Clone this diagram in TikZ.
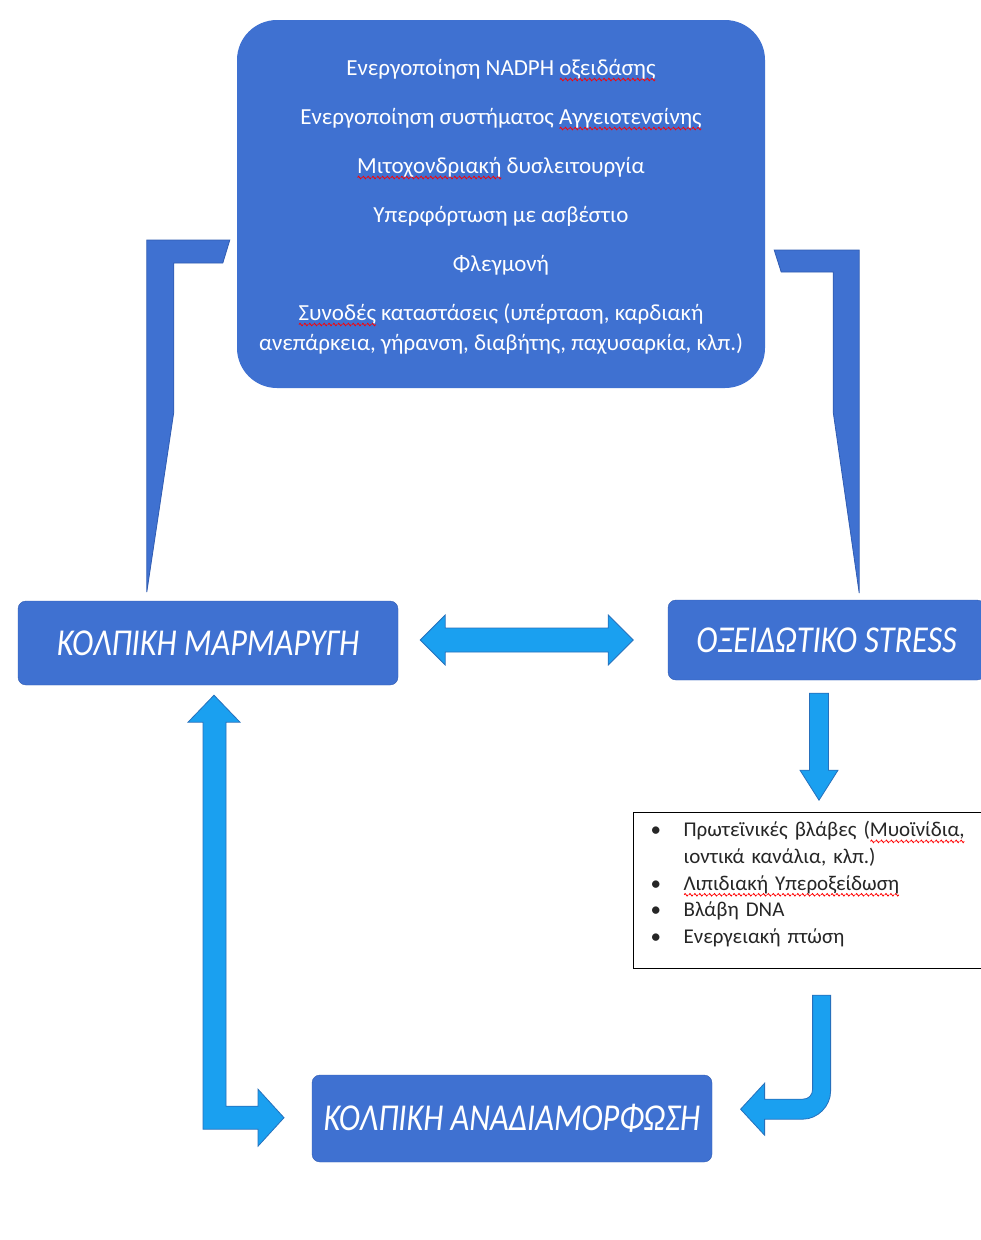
\documentclass[tikz,border=0pt]{standalone}
\usepackage{fontspec}
\setmainfont{Carlito}
\newfontfamily\titlefont[FakeStretch=0.85]{Carlito}
\usetikzlibrary{calc,positioning}

\definecolor{boxblue}{RGB}{63,113,209}
\definecolor{boxedge}{RGB}{48,92,178}
\definecolor{flowblue}{RGB}{26,160,240}
\definecolor{flowedge}{RGB}{38,112,188}

% red wavy underline, as the spell checker shows it
\newcommand\wavebit{\tikz[baseline=0pt]\draw[draw=red, fill=none, sharp corners, line width=0.8pt, x=1pt, y=1pt]
  (0,0) sin (1,1.3) cos (2,0) sin (3,-1.3) cos (4,0);}
\newcommand\spellerr[1]{\setbox0\hbox{#1}%
  \rlap{\raisebox{-4.5pt}[0pt][0pt]{\hbox to \wd0{\xleaders\hbox{\wavebit}\hfill}}}#1}

\begin{document}
\begin{tikzpicture}[x=1pt, y=-1pt,
  cause/.style={rectangle, rounded corners=40pt, fill=boxblue, text=white,
                minimum width=528pt, minimum height=368pt, align=center,
                font=\fontsize{23}{30}\selectfont},
  state/.style={rectangle, rounded corners=8pt, fill=boxblue, draw=boxedge, text=white,
                font=\titlefont\itshape\fontsize{38}{40}\selectfont},
  listbox/.style={rectangle, draw=black, line width=1.2pt, fill=white, text=black!85,
                  text width=330pt, inner xsep=17pt, minimum height=156pt, align=left,
                  font=\fontsize{21}{26.7}\selectfont},
  wedge/.style={fill=boxblue, draw=boxedge, line width=0.8pt},
  fat/.style={fill=flowblue, draw=flowedge, line width=0.8pt}
]
\clip (0,0) rectangle (981,1240);
\fill[white] (0,0) rectangle (981,1240);

\node[cause] (causes) at (501,204) {%
  \rule{0pt}{21pt}Ενεργοποίηση NADPH \spellerr{οξειδάσης}\\[19pt]
  Ενεργοποίηση συστήματος \spellerr{Αγγειοτενσίνης}\\[19pt]
  \spellerr{Μιτοχονδριακή} δυσλειτουργία\\[19pt]
  Υπερφόρτωση με ασβέστιο\\[19pt]
  Φλεγμονή\\[19pt]
  \spellerr{Συνοδές} καταστάσεις (υπέρταση, καρδιακή\\
  ανεπάρκεια, γήρανση, διαβήτης, παχυσαρκία, κλπ.)};

\node[state, minimum width=380pt, minimum height=84pt] (afib) at (208,643) {ΚΟΛΠΙΚΗ ΜΑΡΜΑΡΥΓΗ};
\node[state, minimum width=317pt, minimum height=80pt] (oxstress) at (826.5,640) {ΟΞΕΙΔΩΤΙΚΟ STRESS};
\node[listbox, anchor=north west] (damage) at (633,812) {%
  \makebox[33pt][l]{\textbullet}Πρωτεϊνικές βλάβες (\spellerr{Μυοϊνίδια,}\\
  \hspace*{33pt}ιοντικά κανάλια, κλπ.)\\
  \makebox[33pt][l]{\textbullet}\spellerr{Λιπιδιακή Υπεροξείδωση}\\
  \makebox[33pt][l]{\textbullet}Βλάβη DNA\\
  \makebox[33pt][l]{\textbullet}Ενεργειακή πτώση\rule[-16pt]{0pt}{16pt}};
\node[state, minimum width=400pt, minimum height=87pt] (remodel) at (512,1118.5) {ΚΟΛΠΙΚΗ ΑΝΑΔΙΑΜΟΡΦΩΣΗ};

% bent wedges from the causes down to the two states
\draw[wedge] ($(causes.west)+(-7,36)$) -- ++(-83,0) -- ++(0,352) -- ++(27,-180)
  -- ++(0,-149) -- ++(49,0) -- cycle;
\draw[wedge] ($(causes.east)+(9,46)$) -- ++(85,0) -- ++(0,343) -- ++(-26,-181)
  -- ++(0,-140) -- ++(-52,0) -- cycle;

% afib <-> oxidative stress
\draw[fat] ($(afib.east)+(22,-3)$) -- ++(25,-25) -- ++(0,13) -- ++(163,0) -- ++(0,-13)
  -- ++(25,25) -- ++(-25,25) -- ++(0,-13) -- ++(-163,0) -- ++(0,13) -- cycle;

% oxidative stress -> damage
\draw[fat] ($(oxstress.south)+(-17,13)$) -- ++(19,0) -- ++(0,77) -- ++(9.5,0)
  -- ++(-19,30) -- ++(-19,-30) -- ++(9.5,0) -- cycle;

% afib <-> remodelling (bent)
\draw[fat] ($(afib.south)+(6,10)$) -- ++(26,27) -- ++(-14,0) -- ++(0,384) -- ++(32,0)
  -- ++(0,-17) -- ++(26,28.5) -- ++(-26,28.5) -- ++(0,-17) -- ++(-55,0)
  -- ++(0,-407) -- ++(-15,0) -- cycle;

% damage -> remodelling (hook)
\draw[fat] ($(damage.south)+(-3,26)$) -- ++(18,0) -- ++(0,96)
  .. controls +(0,15) and +(15,0) .. ++(-28,28) -- ++(-38,0) -- ++(0,16)
  -- ++(-24,-26) -- ++(24,-26) -- ++(0,16) -- ++(38,0)
  .. controls +(6,0) and +(0,6) .. ++(10,-10) -- cycle;
\end{tikzpicture}
\end{document}
